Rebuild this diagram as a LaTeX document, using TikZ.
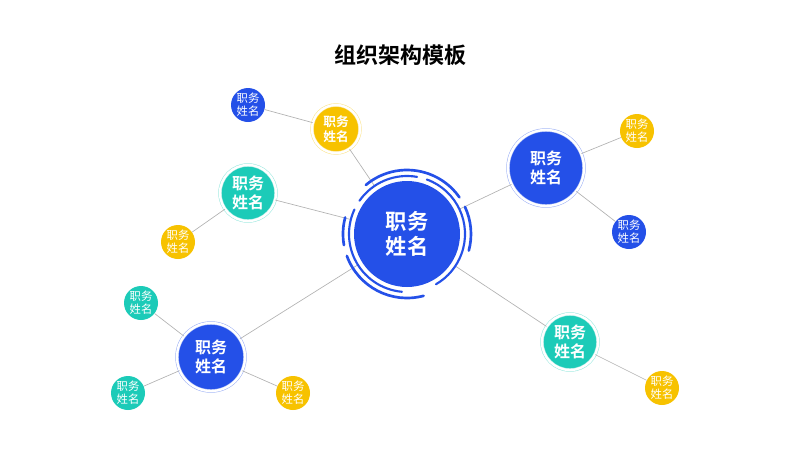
\documentclass[tikz,border=0pt]{standalone}
\usepackage{fontspec}
\setmainfont{Noto Sans CJK SC}
\newfontfamily\cjkb{Noto Sans CJK SC Bold}
\definecolor{cb}{HTML}{2450E8}
\definecolor{ct}{HTML}{1CCBB8}
\definecolor{cy}{HTML}{F7C200}
\begin{document}
\begin{tikzpicture}[x=0.75pt,y=-0.75pt,
  link/.style={draw=gray!60,line width=0.5pt},
  big/.style={circle,fill=#1,text=white,inner sep=0pt,align=center,font=\cjkb\fontsize{16}{19}\selectfont,minimum size=79.5pt,double=white,double distance=2.2pt,draw=#1!50},
  mid/.style={circle,fill=#1,text=white,inner sep=0pt,align=center,font=\cjkb\fontsize{12}{14}\selectfont,double=white,double distance=1.8pt,draw=#1!45},
  sml/.style={circle,fill=#1,text=white,inner sep=0pt,align=center,font=\fontsize{8.5}{10}\selectfont,minimum size=25.5pt}]
\useasboundingbox (0,0) rectangle (800,450);
\node[font=\cjkb\fontsize{16.5}{20}\selectfont] (title) at (400,55) {组织架构模板};
\node[circle,fill=cb,text=white,inner sep=0pt,align=center,font=\cjkb\fontsize{16}{19}\selectfont,minimum size=79.5pt] (c) at (407,234) {职务\\姓名};
\node[mid=cb,minimum size=57pt] (r1) at (546,168) {职务\\姓名};
\node[mid=cy,minimum size=36pt,font=\cjkb\fontsize{9.5}{11}\selectfont] (t1) at (336,129) {职务\\姓名};
\node[mid=ct,minimum size=42pt] (l1) at (248,193) {职务\\姓名};
\node[mid=cb,minimum size=51pt] (ll) at (211,357) {职务\\姓名};
\node[mid=ct,minimum size=42pt] (rr) at (570,342) {职务\\姓名};
\node[sml=cy] (a1) at (637,131) {职务\\姓名};
\node[sml=cb] (a2) at (629,232) {职务\\姓名};
\node[sml=cb] (a3) at (248,105) {职务\\姓名};
\node[sml=cy] (a4) at (178,242) {职务\\姓名};
\node[sml=ct] (a5) at (141,303) {职务\\姓名};
\node[sml=ct] (a6) at (128,393) {职务\\姓名};
\node[sml=cy] (a7) at (293,393) {职务\\姓名};
\node[sml=cy] (a8) at (662,388) {职务\\姓名};
\begin{scope}[on background layer/.try]
\end{scope}
\draw[link] (c) -- (r1);
\draw[link] (c) -- (t1);
\draw[link] (c) -- (l1);
\draw[link] (c) -- (ll);
\draw[link] (c) -- (rr);
\draw[link] (r1) -- (a1);
\draw[link] (r1) -- (a2);
\draw[link] (t1) -- (a3);
\draw[link] (l1) -- (a4);
\draw[link] (ll) -- (a5);
\draw[link] (ll) -- (a6);
\draw[link] (ll) -- (a7);
\draw[link] (rr) -- (a8);
% rings around center
\fill[white] (c.center) ++(0:58) arc (0:360:58) -- cycle;
\node[circle,fill=cb,text=white,inner sep=0pt,align=center,font=\cjkb\fontsize{16}{19}\selectfont,minimum size=79.5pt] at (c.center) {职务\\姓名};
\begin{scope}[draw=cb,line width=1.6pt,line cap=round]
\draw (c.center) ++(95:58) arc (95:205:58);
\draw (c.center) ++(215:58) arc (215:280:58);
\draw (c.center) ++(290:58) arc (290:420:58);
\draw[line width=2pt] (c.center) ++(75:64) arc (75:160:64);
\draw[line width=2pt] (c.center) ++(170:64) arc (170:195:64);
\draw[line width=2pt] (c.center) ++(230:64) arc (230:325:64);
\draw[line width=2pt] (c.center) ++(335:64) arc (335:375:64);
\end{scope}
\end{tikzpicture}
\end{document}
